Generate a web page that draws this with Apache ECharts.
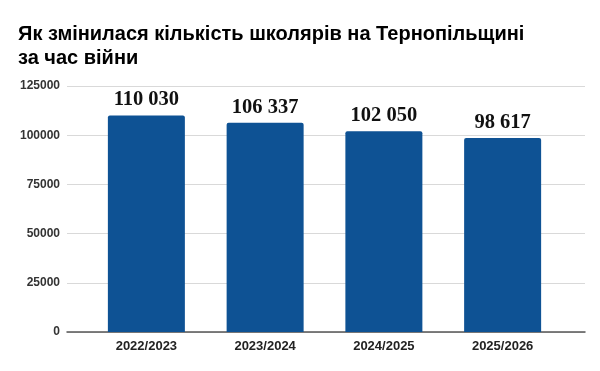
<!DOCTYPE html>
<html>
<head>
<meta charset="utf-8">
<script src="https://cdn.jsdelivr.net/npm/echarts@6/dist/echarts.min.js"></script>
<style>
html,body{margin:0;padding:0;background:#fff;}
#main{width:600px;height:371px;}
</style>
</head>
<body>
<div id="main"></div>
<script>
const categories = ['2022/2023', '2023/2024', '2024/2025', '2025/2026'];
const pupils = [110030, 106337, 102050, 98617];
const yTicks = [0, 25000, 50000, 75000, 100000, 125000];
const titleText = 'Як змінилася кількість школярів на Тернопільщині\nза час війни';

const chart = echarts.init(document.getElementById('main'));
const fmt = v => String(v).replace(/\B(?=(\d{3})+(?!\d))/g, ' ');
chart.setOption({
  animation: false,
  backgroundColor: '#fff',
  title: {
    text: titleText,
    left: 13, top: 17,
    textStyle: {fontFamily: 'Liberation Sans', fontWeight: 'bold', fontSize: 20, lineHeight: 24, color: '#000'}
  },
  grid: [
    {left: 87, right: 38, top: 86, bottom: 39},
    {left: 67, right: 15, top: 86, bottom: 39}
  ],
  xAxis: [
    {gridIndex: 0, type: 'category', data: categories,
     axisLine: {show: false}, axisTick: {show: false},
     axisLabel: {margin: 8, fontFamily: 'Liberation Sans', fontWeight: 'bold', fontSize: 13, color: '#222'}},
    {gridIndex: 1, type: 'value', min: 0, max: 1, show: true,
     axisLine: {show: true, onZero: false, lineStyle: {color: '#555', width: 1.5}},
     axisTick: {show: false}, axisLabel: {show: false}, splitLine: {show: false}}
  ],
  yAxis: [
    {gridIndex: 0, type: 'value', min: yTicks[0], max: yTicks[yTicks.length - 1], interval: yTicks[1] - yTicks[0], show: false, splitLine: {show: false}},
    {gridIndex: 1, type: 'value', min: yTicks[0], max: yTicks[yTicks.length - 1], interval: yTicks[1] - yTicks[0],
     axisLine: {show: false}, axisTick: {show: false},
     axisLabel: {margin: 7, formatter: v => String(v), fontFamily: 'Liberation Sans', fontWeight: 'bold', fontSize: 12, color: '#333'},
     splitLine: {lineStyle: {color: '#d9d9d9', width: 1}}}
  ],
  series: [{
    type: 'bar', xAxisIndex: 0, yAxisIndex: 0, z: 3,
    data: pupils,
    barWidth: 77,
    itemStyle: {color: '#0e5294', borderRadius: [2, 2, 0, 0]},
    label: {show: true, position: 'top', distance: 5,
      formatter: p => fmt(p.value),
      fontFamily: 'Liberation Serif', fontWeight: 'bold', fontSize: 20.5, color: '#111'}
  }]
});
</script>
</body>
</html>
